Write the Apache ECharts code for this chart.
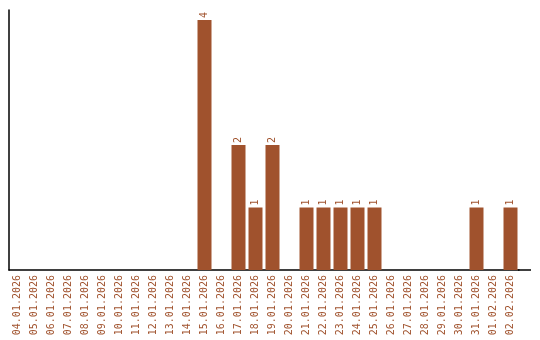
<!DOCTYPE html>
<html><head><meta charset="utf-8">
<script src="https://cdn.jsdelivr.net/npm/echarts@6/dist/echarts.min.js"></script>
<style>html,body{margin:0;padding:0;background:#fff}#c{width:540px;height:340px}</style>
</head><body><div id="c"></div>
<script>
const categories = ["04.01.2026","05.01.2026","06.01.2026","07.01.2026","08.01.2026","09.01.2026","10.01.2026","11.01.2026","12.01.2026","13.01.2026","14.01.2026","15.01.2026","16.01.2026","17.01.2026","18.01.2026","19.01.2026","20.01.2026","21.01.2026","22.01.2026","23.01.2026","24.01.2026","25.01.2026","26.01.2026","27.01.2026","28.01.2026","29.01.2026","30.01.2026","31.01.2026","01.02.2026","02.02.2026"];
const counts = [0,0,0,0,0,0,0,0,0,0,0,4,0,2,1,2,0,1,1,1,1,1,0,0,0,0,0,1,0,1];

const color = '#a0522d';
const font = '"DejaVu Sans Mono", monospace';
const chart = echarts.init(document.getElementById('c'), null, {renderer:'canvas'});
chart.setOption({
  animation:false,
  grid:{left:9, top:10, width:510, bottom:70},
  xAxis:{type:'category', data:categories,
    axisLine:{show:true, lineStyle:{color:'#000', width:1.5}},
    axisTick:{show:false},
    axisLabel:{rotate:90, interval:0, margin:5, color:color, fontFamily:font, fontSize:10}
  },
  yAxis:{type:'value', min:0, max:4.16,
    axisLine:{show:true, lineStyle:{color:'#000', width:1.5}},
    axisTick:{show:false}, axisLabel:{show:false}, splitLine:{show:false}
  },
  graphic:[{type:'line', shape:{x1:518, y1:270, x2:531, y2:270}, style:{stroke:'#000', lineWidth:1.5}}],
  series:[{type:'bar', data:counts.map(v => v === 0 ? null : v), barWidth:14,
    itemStyle:{color:color},
    label:{show:true, position:'top', rotate:90, align:'left', verticalAlign:'middle', distance:2,
      color:color, fontFamily:font, fontSize:10}
  }]
});
</script></body></html>
